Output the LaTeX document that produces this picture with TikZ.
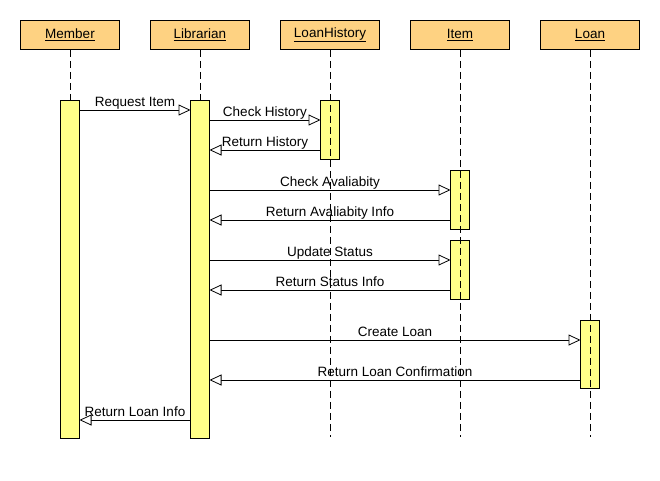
\documentclass[tikz,border=0pt]{standalone}
\usepackage{fontspec}
\setmainfont{Liberation Sans}
\usetikzlibrary{arrows.meta}
\definecolor{headfill}{RGB}{254,210,130}
\definecolor{barfill}{RGB}{255,255,136}

\begin{document}
\begin{tikzpicture}[x=1pt, y=-1pt, line width=0.8pt,
  every node/.style={font=\fontsize{13.5}{16}\selectfont},
  head/.style={draw, fill=headfill, minimum width=99pt, minimum height=29pt, inner sep=0pt},
  bar/.style={draw, fill=barfill, minimum width=19pt, inner sep=0pt, outer sep=0pt, anchor=north},
  life/.style={dash pattern=on 7pt off 4pt},
  msg/.style={-{Triangle[length=12pt, width=11pt, fill=white]}},
  lbl/.style={above=3.5pt, inner sep=0pt, text depth=0pt, midway}]
\useasboundingbox (0,0) rectangle (660,480);

\node[head] (member) at (70,35) {\underline{Member}};
\node[head] (librarian) at (200,35) {\underline{Librarian}};
\node[head] (history) at (330,35) {\underline{LoanHistory}};
\node[head] (item) at (460,35) {\underline{Item}};
\node[head] (loan) at (590,35) {\underline{Loan}};

\node[bar, minimum height=59pt] (historybar) at (330,100) {};
\node[bar, minimum height=59pt] (itembarA) at (460,170) {};
\node[bar, minimum height=59pt] (itembarB) at (460,240) {};
\node[bar, minimum height=68pt] (loanbar) at (590,320) {};

\draw[msg] (librarian.south |- 0,120) ++(9.5,0) coordinate (m2) -- (historybar.west |- m2) node[lbl] {Check History};
\draw[msg] (historybar.west |- 0,150) -- ++(-111,0) node[lbl] {Return History};
\draw[msg] (librarian.south |- 0,190) ++(9.5,0) coordinate (m3) -- (itembarA.west |- m3) node[lbl] {Check Avaliabity};
\draw[msg] (itembarA.west |- 0,220) -- ++(-241,0) node[lbl] {Return Avaliabity Info};
\draw[msg] (librarian.south |- 0,260) ++(9.5,0) coordinate (m5) -- (itembarB.west |- m5) node[lbl] {Update Status};
\draw[msg] (itembarB.west |- 0,290) -- ++(-241,0) node[lbl] {Return Status Info};
\draw[msg] (librarian.south |- 0,340) ++(9.5,0) coordinate (m7) -- (loanbar.west |- m7) node[lbl] {Create Loan};
\draw[msg] (loanbar.west |- 0,380) -- ++(-371,0) node[lbl] {Return Loan Confirmation};

\draw[life] (member.south) -- (member.south |- 0,437);
\draw[life] (librarian.south) -- (librarian.south |- 0,437);
\draw[life] (history.south) -- (history.south |- 0,437);
\draw[life] (item.south) -- (item.south |- 0,437);
\draw[life] (loan.south) -- (loan.south |- 0,437);

\node[bar, minimum height=338pt] (memberbar) at (70,100) {};
\node[bar, minimum height=338pt] (librarianbar) at (200,100) {};

\draw[msg] (memberbar.east |- 0,110) -- (librarianbar.west |- 0,110) node[lbl] {Request Item};
\draw[msg] (librarianbar.west |- 0,420) -- (memberbar.east |- 0,420) node[lbl] {Return Loan Info};
\end{tikzpicture}
\end{document}
